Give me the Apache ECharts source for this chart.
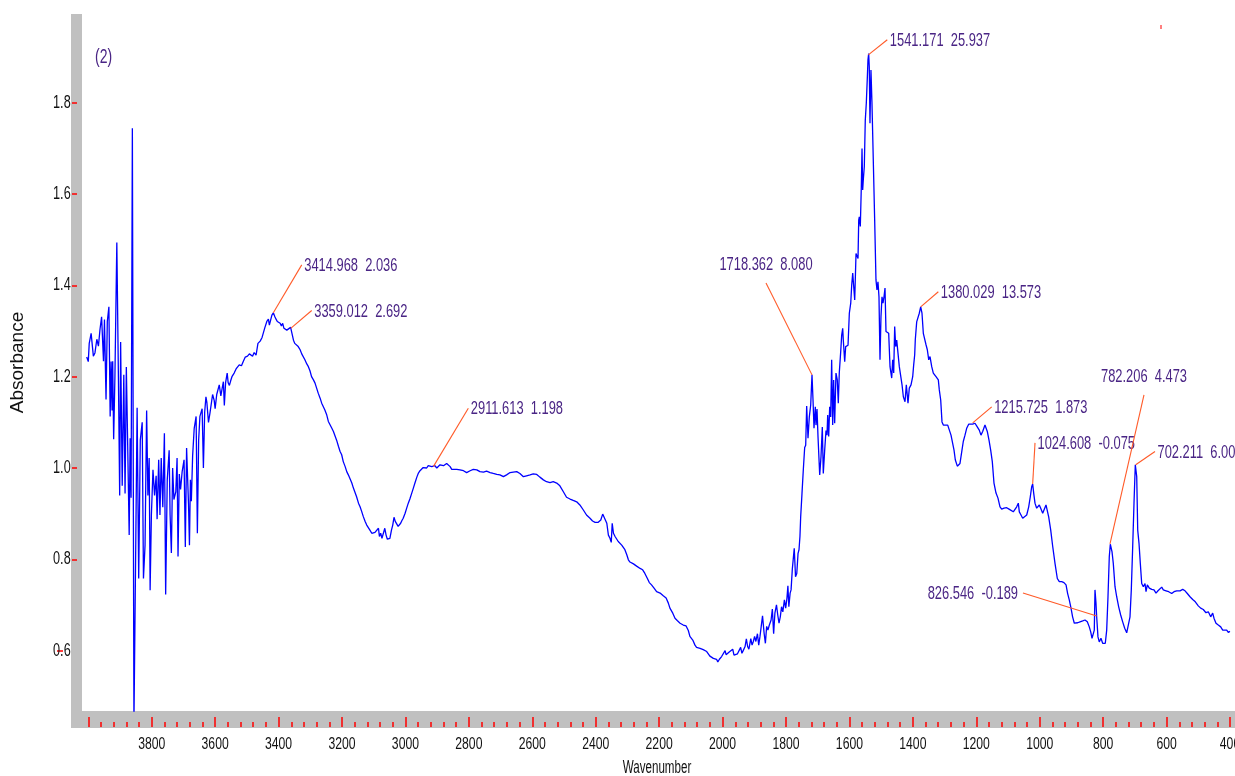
<!DOCTYPE html>
<html><head><meta charset="utf-8">
<script src="https://cdn.jsdelivr.net/npm/echarts@6/dist/echarts.min.js"></script>
<style>html,body{margin:0;padding:0;background:#fff;}#c{width:1235px;height:776px;}</style>
</head><body><div id="c"></div>
<script>
// ---- spectrum data [wavenumber, absorbance] ----
const spectrumNoisy = [[4005,1.243],[4000,1.233],[3997,1.273],[3991,1.295],[3984,1.245],[3979,1.252],[3973,1.282],[3968,1.267],[3963,1.304],[3958,1.331],[3952,1.234],[3949,1.325],[3944,1.150],[3940,1.321],[3935,1.353],[3931,1.113],[3928,1.233],[3925,1.126],[3923,1.234],[3920,1.063],[3916,1.200],[3910,1.494],[3905,1.200],[3901,0.940],[3898,1.276],[3893,0.961],[3888,1.204],[3884,0.944],[3880,1.221],[3876,1.061],[3871,0.853],[3868,1.065],[3865,0.935],[3861,1.744],[3856,0.44],[3850,0.853],[3846,1.132],[3841,0.758],[3836,1.061],[3830,1.100],[3826,0.758],[3821,0.831],[3816,1.126],[3812,0.940],[3808,1.022],[3805,0.732],[3801,0.897],[3796,0.996],[3791,0.940],[3786,0.983],[3783,0.888],[3778,1.018],[3774,0.897],[3770,1.022],[3765,0.914],[3760,1.076],[3756,0.723],[3751,0.974],[3745,1.039],[3742,0.897],[3738,0.814],[3734,1.000],[3730,0.931],[3724,0.948],[3720,1.022],[3717,0.806],[3713,0.987],[3709,0.953],[3704,0.992],[3698,1.018],[3694,0.827],[3690,1.044],[3684,0.922],[3681,0.831],[3678,0.974],[3675,0.927],[3671,1.026],[3666,1.087],[3660,1.113],[3656,0.857],[3652,1.061],[3648,1.113],[3641,1.130],[3637,1.000],[3633,1.122],[3629,1.156],[3626,1.143],[3621,1.100],[3616,1.122],[3612,1.126],[3608,1.161],[3603,1.148],[3600,1.130],[3595,1.161],[3591,1.165],[3587,1.182],[3582,1.158],[3578,1.174],[3574,1.189],[3571,1.137],[3567,1.187],[3562,1.208],[3559,1.187],[3555,1.181],[3551,1.191],[3547,1.200],[3540,1.208],[3534,1.217],[3530,1.213],[3524,1.226],[3517,1.224],[3511,1.234],[3505,1.243],[3498,1.245],[3492,1.250],[3486,1.252],[3482,1.245],[3477,1.253],[3471,1.247],[3465,1.273],[3458,1.278],[3452,1.286]];
const spectrumOH = [[3443,1.308],[3437,1.321],[3432,1.326],[3429,1.313],[3425,1.324],[3421,1.335],[3416.5,1.340],[3412,1.332],[3408,1.326],[3404,1.321],[3400,1.324],[3395,1.317],[3391,1.311],[3387,1.317],[3383,1.306],[3379,1.308],[3374,1.302],[3368,1.301],[3362,1.308],[3358,1.306],[3353,1.280],[3349,1.273],[3343,1.277],[3338,1.266],[3332,1.259],[3327,1.250],[3322,1.248],[3317,1.237],[3311,1.228],[3306,1.222],[3301,1.213],[3296,1.200],[3290,1.193],[3285,1.186],[3280,1.175],[3275,1.164],[3269,1.153],[3264,1.142],[3259,1.145],[3254,1.127],[3248,1.116],[3243,1.102],[3238,1.098],[3232,1.087],[3227,1.080],[3222,1.076],[3217,1.061],[3211,1.047],[3206,1.036],[3201,1.029],[3196,1.014],[3190,1.003],[3185,0.992],[3180,0.985],[3175,0.981],[3169,0.967],[3164,0.956],[3159,0.952],[3154,0.937],[3148,0.923],[3143,0.915],[3138,0.905],[3133,0.894],[3127,0.883],[3122,0.875],[3117,0.872],[3112,0.864],[3106,0.857],[3101,0.856],[3096,0.859],[3091,0.856],[3085,0.868],[3082,0.850],[3078,0.857],[3074,0.846],[3070,0.846],[3065,0.868],[3061,0.853],[3057,0.844],[3053,0.843],[3049,0.846],[3044,0.864],[3040,0.875],[3036,0.892],[3032,0.883],[3028,0.886],[3023,0.872],[3019,0.875],[3015,0.879],[3011,0.885],[3007,0.890],[3001,0.901],[2996,0.912],[2991,0.923],[2986,0.932],[2980,0.945],[2975,0.956],[2970,0.967],[2964,0.980],[2959,0.989],[2954,0.994],[2949,0.997],[2944,1.001],[2938,1.003],[2933,1.000],[2928,1.005],[2922,1.009],[2917,1.003],[2912,1.000],[2907,1.005],[2901,1.000],[2896,1.002],[2891,1.007],[2886,1.009],[2880,1.005],[2875,1.007],[2870,1.010],[2865,1.009],[2859,1.003],[2854,0.997],[2849,1.000],[2838,0.997],[2828,0.996],[2817,0.994],[2807,0.990],[2796,0.994],[2786,0.997],[2775,0.996],[2765,0.992],[2754,0.991],[2744,0.993],[2733,0.990],[2723,0.988],[2712,0.986],[2702,0.985],[2691,0.981],[2681,0.985],[2670,0.990],[2660,0.991],[2649,0.992],[2639,0.988],[2628,0.981],[2623,0.985],[2618,0.983],[2607,0.985],[2597,0.987],[2586,0.986],[2576,0.980],[2565,0.974],[2555,0.970],[2544,0.968],[2534,0.970],[2523,0.967],[2513,0.961],[2502,0.948],[2492,0.936],[2481,0.932],[2471,0.929],[2460,0.926],[2450,0.919],[2439,0.908],[2429,0.897],[2418,0.890]];
const spectrumValley = [[2410,0.884],[2402,0.881],[2392,0.881],[2384,0.886],[2378,0.899],[2372,0.895],[2365,0.879],[2360,0.853],[2355,0.846],[2351,0.837],[2348,0.879],[2344,0.857],[2339,0.850],[2334,0.852],[2329,0.839],[2323,0.835],[2318,0.831],[2313,0.829],[2308,0.821],[2302,0.810],[2297,0.799],[2292,0.794],[2281,0.790],[2271,0.785],[2260,0.780],[2252,0.777],[2245,0.769],[2237,0.758],[2231,0.749],[2224,0.744],[2216,0.737],[2208,0.729],[2197,0.726],[2187,0.720],[2178,0.715],[2171,0.704],[2166,0.693],[2157,0.682],[2150,0.671],[2143,0.666],[2134,0.660],[2124,0.656],[2115,0.654],[2108,0.644],[2103,0.631],[2094,0.623],[2087,0.612],[2082,0.607],[2071,0.605],[2061,0.602],[2050,0.598],[2045,0.596],[2040,0.588],[2034,0.585],[2029,0.583],[2024,0.580],[2019,0.581],[2015,0.575],[2010,0.581],[2003,0.587],[1998,0.591],[1992,0.600],[1989,0.591],[1984,0.594],[1979,0.597],[1973,0.594],[1968,0.603],[1964,0.590],[1959,0.594],[1953,0.593],[1948,0.597],[1943,0.607],[1939,0.594],[1935,0.600],[1929,0.609],[1925,0.626],[1921,0.609],[1917,0.603],[1911,0.626],[1907,0.612],[1903,0.620],[1899,0.631],[1895,0.620],[1890,0.637],[1886,0.612],[1882,0.631],[1878,0.629],[1874,0.676],[1869,0.638],[1865,0.616],[1861,0.653],[1857,0.645],[1853,0.655],[1847,0.667],[1843,0.691],[1839,0.637],[1835,0.682],[1830,0.700],[1826,0.678],[1822,0.660],[1818,0.674],[1814,0.696],[1810,0.685],[1805,0.711],[1801,0.693],[1797,0.715],[1794,0.742],[1791,0.696],[1787,0.726],[1784,0.733],[1780,0.779],[1777,0.780],[1774,0.824],[1770,0.762],[1766,0.769],[1762,0.813],[1759,0.821],[1756,0.850]];
const spectrumAmide = [[1753.7,0.893],[1749.5,0.945],[1745.4,0.996],[1741.1,1.045],[1737.9,1.050],[1734.8,1.136],[1730.6,1.065],[1726.5,1.112],[1722.1,1.138],[1718.0,1.204],[1714.8,1.149],[1711.7,1.087],[1707.6,1.134],[1705.4,1.094],[1702.2,1.129],[1699.1,1.069],[1693.7,0.985],[1689.6,1.025],[1685.5,1.090],[1682.4,0.988],[1678.0,1.039],[1673.9,1.082],[1670.7,1.072],[1668.5,1.116],[1665.4,1.069],[1662.2,1.134],[1659.1,1.112],[1656.0,1.237],[1652.8,1.094],[1649.7,1.193],[1646.5,1.098],[1642.4,1.208],[1638.3,1.193],[1635.1,1.142],[1632.0,1.208],[1627.5,1.255],[1624.4,1.291],[1621.2,1.306],[1619.3,1.280],[1614.9,1.233],[1611.8,1.266],[1608.5,1.262],[1604.4,1.269],[1600.3,1.339],[1595.9,1.361],[1592.8,1.401],[1589.6,1.427],[1586.5,1.397],[1583.3,1.368],[1579.2,1.470],[1576.1,1.474],[1572.9,1.459],[1570.7,1.543],[1568.8,1.550],[1565.7,1.529],[1562.5,1.616],[1560.3,1.700],[1558.2,1.609],[1556.3,1.631],[1553.1,1.660],[1550.0,1.762],[1546.8,1.799],[1543.6,1.854],[1541.5,1.894],[1539.3,1.908],[1537.4,1.879],[1535.2,1.755],[1532.1,1.872],[1528.9,1.799],[1524.8,1.675],[1520.4,1.543],[1516.3,1.412],[1513.1,1.390],[1510.0,1.408],[1506.8,1.375],[1503.6,1.237],[1500.5,1.332],[1497.3,1.375],[1494.2,1.361],[1491.0,1.375],[1487.8,1.394],[1484.7,1.299],[1480.6,1.302],[1476.2,1.295],[1472.0,1.222],[1466.7,1.197],[1463.6,1.237],[1460.4,1.208],[1457.3,1.310],[1454.1,1.266],[1450.9,1.280],[1446.8,1.251],[1442.7,1.222]];
const spectrumFingerprint = [[1434.1,1.182],[1430.0,1.156],[1424.7,1.145],[1420.6,1.182],[1415.3,1.142],[1411.2,1.175],[1405.8,1.182],[1400.5,1.200],[1397.4,1.226],[1394.2,1.248],[1392.3,1.281],[1387.9,1.320],[1383.8,1.320],[1379.7,1.339],[1375.3,1.353],[1371.2,1.339],[1367.0,1.295],[1362.6,1.299],[1358.5,1.270],[1354.4,1.259],[1349.9,1.237],[1345.9,1.244],[1340.5,1.222],[1335.5,1.208],[1327.0,1.200],[1319.7,1.193],[1316.6,1.171],[1312.2,1.149],[1308.1,1.101],[1303.9,1.094],[1297.6,1.098],[1290.1,1.094],[1285.0,1.090],[1279.7,1.072],[1274.4,1.069],[1270.2,1.039],[1266.2,1.018],[1259.8,1.004],[1256.7,1.003],[1251.4,1.010],[1245.1,1.039],[1241.0,1.058],[1235.6,1.072],[1230.3,1.087],[1224.0,1.096],[1217.7,1.098],[1211.4,1.096],[1204.1,1.098],[1196.9,1.090],[1190.6,1.083],[1185.2,1.072],[1179.9,1.080],[1172.6,1.094],[1169.4,1.096],[1165.3,1.080],[1159.9,1.061],[1154.6,1.039],[1149.5,1.014],[1144.2,0.967],[1137.8,0.945],[1131.6,0.934],[1125.2,0.915],[1119.9,0.910],[1112.6,0.912],[1104.1,0.913],[1096.8,0.910],[1090.5,0.912],[1083.3,0.904],[1077.0,0.902],[1072.6,0.915],[1067.5,0.923],[1064.3,0.904],[1059.0,0.897],[1053.7,0.890],[1047.4,0.890],[1041.0,0.897],[1034.7,0.915],[1029.7,0.937],[1025.3,0.959],[1022.2,0.965],[1019.0,0.945],[1014.9,0.923],[1009.6,0.912],[1005.4,0.908],[1001.3,0.919],[996.9,0.912],[990.6,0.901],[985.6,0.904],[980.2,0.919],[976.1,0.915],[971.7,0.893],[965.3,0.864],[959.0,0.828],[951.8,0.791],[944.5,0.758],[938.2,0.751],[930.6,0.751],[923.6,0.749],[917.0,0.744],[911.9,0.725],[906.8,0.711],[901.3,0.693],[896.3,0.674],[890.9,0.660],[885.6,0.656],[880.3,0.661],[872.9,0.663],[864.5,0.665],[857.2,0.667],[849.9,0.663],[843.7,0.652],[839.2,0.641],[835.1,0.627],[831.1,0.623],[827.9,0.645],[825.7,0.733],[822.6,0.704],[820.4,0.674],[816.3,0.630],[812.2,0.619],[806.9,0.627],[801.5,0.616],[797.4,0.619],[793.2,0.616],[788.8,0.645],[784.7,0.718],[780.6,0.806],[777.4,0.833],[772.1,0.817],[768.0,0.791],[762.6,0.740],[757.3,0.718],[751.0,0.696],[744.7,0.678],[738.4,0.663],[732.0,0.649],[725.7,0.639],[720.7,0.641],[715.3,0.674],[711.2,0.733],[706.8,0.828],[702.7,0.923],[698.6,1.007],[694.1,0.981],[691.0,0.864],[686.9,0.835],[682.8,0.791],[678.4,0.747],[673.3,0.740],[668.0,0.747],[664.8,0.729],[660.7,0.744],[654.4,0.737],[646.8,0.734],[639.6,0.733],[633.3,0.726],[627.0,0.731],[620.7,0.727],[615.3,0.739],[610.3,0.733],[601.8,0.731],[593.3,0.729],[583.8,0.725],[576.5,0.729],[568.0,0.731],[557.6,0.731],[549.1,0.734],[541.8,0.731],[534.6,0.725],[526.1,0.718],[517.6,0.712],[509.4,0.707],[500.0,0.698],[492.4,0.693],[484.2,0.690],[475.8,0.683],[468.4,0.685],[460.9,0.674],[454.6,0.682],[450.5,0.671],[444.2,0.660],[436.9,0.656],[429.3,0.652],[423.0,0.645],[416.7,0.641],[410.4,0.645],[405.4,0.640],[400,0.642]];

// ---- peak annotations ----
const annotationText = ['3414.968  2.036','3359.012  2.692','2911.613  1.198','1718.362  8.080','1541.171  25.937','1380.029  13.573','1215.725  1.873','1024.608  -0.075','782.206  4.473','702.211  6.00','826.546  -0.189'];
const annotationPeak = [[3416.5,1.340],[3361.7,1.306],[2912,1.003],[1718,1.204],[1540.4,1.905],[1375.3,1.353],[1211.3,1.099],[1022.2,0.965],[778.4,0.834],[697.3,1.007],[820.3,0.676]];
const annotationEnd = [[3327,1.445],[3295.5,1.345],[2801.7,1.131],[1863,1.405],[1480.6,1.938],[1319.7,1.386],[1151.4,1.134],[1014.8,1.055],[671.2,1.160],[636.5,1.036],[1052.8,0.726]];
const annotationSide = ['right','right','right','top','right','right','right','right','top','right','left'];

// ---- axes ----
const yLabelValues = [0.6,0.8,1.0,1.2,1.4,1.6,1.8];
const yTickValues = [0.8,1.0,1.2,1.4,1.6,1.8];
const yShiftedTick = [0.6];
const xMajorTicks = [4000,3800,3600,3400,3200,3000,2800,2600,2400,2200,2000,1800,1600,1400,1200,1000,800,600,400];
const xLabelValues = [3800,3600,3400,3200,3000,2800,2600,2400,2200,2000,1800,1600,1400,1200,1000,800,600,400];
const xMinorTicks = [];
for (let t = 440; t < 4000; t += 40) { if (t % 200 !== 0) xMinorTicks.push(t); }

const SANS = "'Liberation Sans', Arial, sans-serif";
const STRETCH = 1.45;            // the reference glyphs are drawn tall and narrow
const LABEL_PURPLE = '#4a2585';
const spectrum = spectrumNoisy.concat(spectrumOH, spectrumValley, spectrumAmide, spectrumFingerprint);
const X_MIN = 400, X_MAX = 4019.8, Y_MIN = 0.4677, Y_MAX = 1.9945;

const baseX = {type:'value', inverse:true, min:X_MIN, max:X_MAX, position:'bottom', offset:16, z:5,
  splitLine:{show:false}, axisLine:{show:false}, axisLabel:{show:false}};
const baseY = {type:'value', min:Y_MIN, max:Y_MAX, position:'left', z:5,
  splitLine:{show:false}, axisLine:{show:false}, axisLabel:{show:false}};

function stretchedText(x, y, text, size, align, vAlign, fill, sy) {
  return {type:'text', x:x, y:y, scaleY:sy || STRETCH,
    style:{text:text, align:align, verticalAlign:vAlign, font:size + 'px ' + SANS, fill:fill}};
}

const chart = echarts.init(document.getElementById('c'), null, {renderer:'canvas'});
chart.setOption({
  animation:false,
  backgroundColor:'#ffffff',
  grid:{left:82, right:5, top:14, bottom:65, outerBoundsMode:'none', containLabel:false},
  graphic:[
    {type:'rect', z:1, shape:{x:71, y:14, width:11, height:714}, style:{fill:'#c0c0c0'}},
    {type:'rect', z:1, shape:{x:71, y:711, width:1164, height:17}, style:{fill:'#c0c0c0'}},
    Object.assign(stretchedText(95, 57.5, '(2)', 14, 'left', 'middle', LABEL_PURPLE, 1.5), {z:10}),
    Object.assign(stretchedText(657, 767.5, 'Wavenumber', 11.6, 'center', 'middle', '#111', 1.6), {z:10}),
    {type:'line', z:10, shape:{x1:1161, y1:25, x2:1161, y2:29}, style:{stroke:'#ff0000', lineWidth:1}}
  ],
  xAxis:[
    Object.assign({}, baseX, {
      axisTick:{show:true, inside:true, length:10, customValues:xMajorTicks, lineStyle:{color:'#ff0000', width:1.5}}
    }),
    Object.assign({}, baseX, {
      axisTick:{show:true, inside:true, length:5, customValues:xMinorTicks, lineStyle:{color:'#ff0000', width:1.5}}
    })
  ],
  yAxis:[
    Object.assign({}, baseY, {
      offset:5,
      axisTick:{show:true, inside:false, length:5, customValues:yTickValues, lineStyle:{color:'#ff0000', width:1.5}},
      name:'Absorbance', nameLocation:'middle', nameRotate:90, nameGap:50,
      nameTextStyle:{color:'#111', fontFamily:SANS, fontSize:19}
    }),
    Object.assign({}, baseY, {
      offset:19,
      axisTick:{show:true, inside:false, length:6, customValues:yShiftedTick, lineStyle:{color:'#ff0000', width:1.5}}
    })
  ],
  series:[
    {
      type:'line', data:spectrum, xAxisIndex:0, yAxisIndex:0, showSymbol:false, symbol:'none',
      lineStyle:{color:'#0000ff', width:1.3}, clip:true, z:3, silent:true
    },
    { // x tick labels, placed through the axis scale
      type:'custom', xAxisIndex:0, yAxisIndex:0, silent:true, clip:false, z:6,
      data: xLabelValues.map(v => [v, Y_MIN]),
      renderItem:(params, api) => {
        const p = api.coord([api.value(0), api.value(1)]);
        return stretchedText(p[0], p[1] + 33, String(api.value(0)), 12.2, 'center', 'middle', '#111', 1.4);
      }
    },
    { // y tick labels
      type:'custom', xAxisIndex:0, yAxisIndex:0, silent:true, clip:false, z:6,
      data: yLabelValues.map(v => [X_MAX, v]),
      renderItem:(params, api) => {
        const p = api.coord([api.value(0), api.value(1)]);
        return stretchedText(p[0] - 11.3, p[1], api.value(1).toFixed(1), 12.7, 'right', 'middle', '#111', 1.45);
      }
    },
    { // peak annotations: leader line + label
      type:'custom', xAxisIndex:0, yAxisIndex:0, silent:true, clip:false, z:7,
      data: annotationEnd.map((e, i) => [e[0], e[1], annotationPeak[i][0], annotationPeak[i][1]]),
      renderItem:(params, api) => {
        const i = params.dataIndex;
        const end = api.coord([api.value(0), api.value(1)]);
        const peak = api.coord([api.value(2), api.value(3)]);
        const side = annotationSide[i];
        let tx = end[0], ty = end[1], align = 'left';
        if (side === 'right') { tx += 2.5; ty += 1; }
        else if (side === 'left') { tx -= 5; ty += 1; align = 'right'; }
        else { ty -= 18; align = 'center'; }
        return {type:'group', children:[
          {type:'line', shape:{x1:peak[0], y1:peak[1], x2:end[0], y2:end[1]}, style:{stroke:'#ff5a28', lineWidth:1.1}},
          stretchedText(tx, ty, annotationText[i], 12.9, align, 'middle', LABEL_PURPLE, 1.45)
        ]};
      }
    }
  ]
});
</script></body></html>
